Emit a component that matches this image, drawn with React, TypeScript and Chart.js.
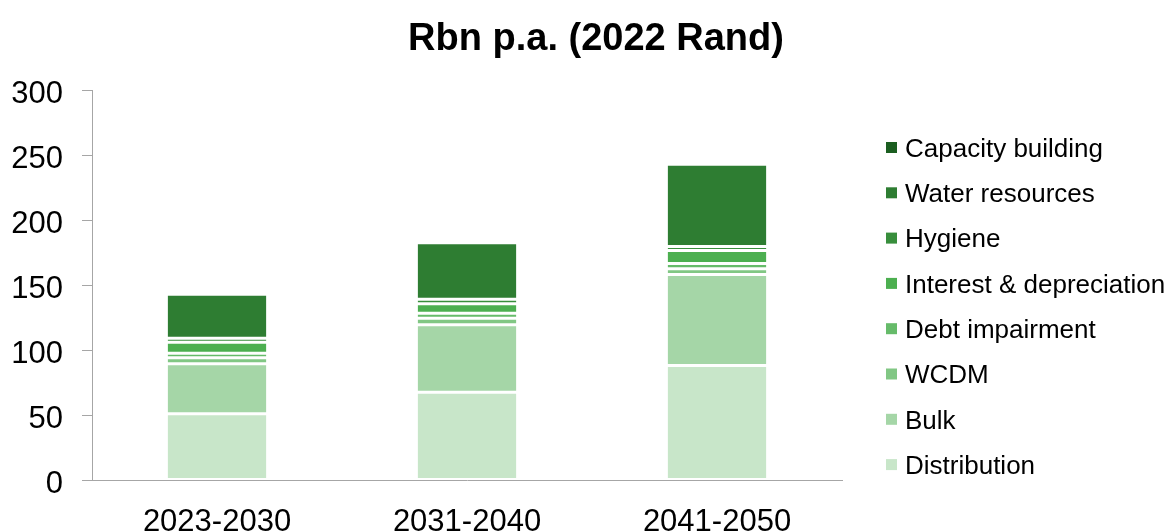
import { useEffect, useRef } from 'react';
import { Chart, registerables } from 'chart.js';

Chart.register(...registerables);

const titleText = 'Rbn p.a. (2022 Rand)';
const categories = ['2023-2030', '2031-2040', '2041-2050'];

// Stack order: bottom to top
const distribution = [51, 67.5, 88];
const bulk = [38.5, 52, 70];
const wcdm = [4.6, 5, 4.5];
const debtImpairment = [3.4, 3.7, 4];
const interestDepreciation = [8.5, 7.4, 10];
const hygiene = [3.1, 3.5, 3.1];
const waterResources = [33.7, 43.4, 63.3];
const capacityBuilding = [0.3, 0.3, 0.3];

const seriesNames = [
  'Distribution',
  'Bulk',
  'WCDM',
  'Debt impairment',
  'Interest & depreciation',
  'Hygiene',
  'Water resources',
  'Capacity building',
];
const seriesValues = [
  distribution,
  bulk,
  wcdm,
  debtImpairment,
  interestDepreciation,
  hygiene,
  waterResources,
  capacityBuilding,
];
const seriesColors = [
  '#C8E6C9',
  '#A5D6A7',
  '#81C784',
  '#66BB6A',
  '#4CAF50',
  '#388E3C',
  '#2E7D32',
  '#1B5E20',
];

const yMin = 0;
const yMax = 300;
const yStep = 50;

const FONT = '"Liberation Sans", Arial, sans-serif';

export default function App() {
  const canvasRef = useRef<HTMLCanvasElement | null>(null);

  useEffect(() => {
    document.body.style.margin = '0';
    const canvas = canvasRef.current;
    if (!canvas) return;

    const overlay = {
      id: 'overlayText',
      afterDraw(chart: any) {
        const ctx = chart.ctx;
        ctx.save();
        // Title
        ctx.fillStyle = '#000';
        ctx.font = `bold 38px ${FONT}`;
        ctx.textAlign = 'center';
        ctx.textBaseline = 'alphabetic';
        ctx.fillText(titleText, 596, 50);

        // Legend (top to bottom = reverse stack order)
        ctx.font = `26px ${FONT}`;
        ctx.textAlign = 'left';
        const n = seriesNames.length;
        const y0 = 147.5;
        const step = 45.3;
        for (let i = 0; i < n; i++) {
          const idx = n - 1 - i;
          const yc = y0 + i * step;
          ctx.fillStyle = seriesColors[idx];
          ctx.fillRect(886, yc - 5.5, 11, 11);
          ctx.fillStyle = '#000';
          ctx.fillText(seriesNames[idx], 905, yc + 9.3);
        }
        ctx.restore();
      },
    };

    const chart = new Chart(canvas, {
      type: 'bar',
      data: {
        labels: categories,
        datasets: seriesNames.map((name, i) => ({
          label: name,
          data: seriesValues[i],
          backgroundColor: seriesColors[i],
          borderColor: '#FFFFFF',
          borderWidth: 1.5,
          borderSkipped: false,
          barPercentage: 0.405,
          categoryPercentage: 1,
        })),
      },
      options: {
        responsive: false,
        animation: false,
        layout: { padding: { left: 0, right: 331, top: 90, bottom: 0 } },
        plugins: {
          legend: { display: false },
          title: { display: false },
          tooltip: { enabled: false },
        },
        scales: {
          x: {
            stacked: true,
            grid: { display: true, drawOnChartArea: false, drawTicks: false },
            border: { display: true, color: '#A6A6A6', width: 1 },
            ticks: {
              color: '#000',
              font: { family: FONT, size: 31 },
              padding: 24,
              maxRotation: 0,
            },
            afterFit(scale: any) {
              scale.height = 51;
            },
          },
          y: {
            stacked: true,
            min: yMin,
            max: yMax,
            grid: {
              display: true,
              drawOnChartArea: false,
              drawTicks: true,
              tickLength: 10,
              color: '#A6A6A6',
            },
            border: { display: true, color: '#A6A6A6', width: 1 },
            ticks: {
              stepSize: yStep,
              color: '#000',
              font: { family: FONT, size: 31 },
              padding: 19,
              labelOffset: 4,
            },
            afterFit(scale: any) {
              scale.width = 92;
            },
          },
        },
      },
      plugins: [overlay],
    });

    return () => {
      chart.destroy();
    };
  }, []);

  return (
    <canvas
      ref={canvasRef}
      width={1173}
      height={531}
      style={{ display: 'block', width: '1173px', height: '531px' }}
    />
  );
}
